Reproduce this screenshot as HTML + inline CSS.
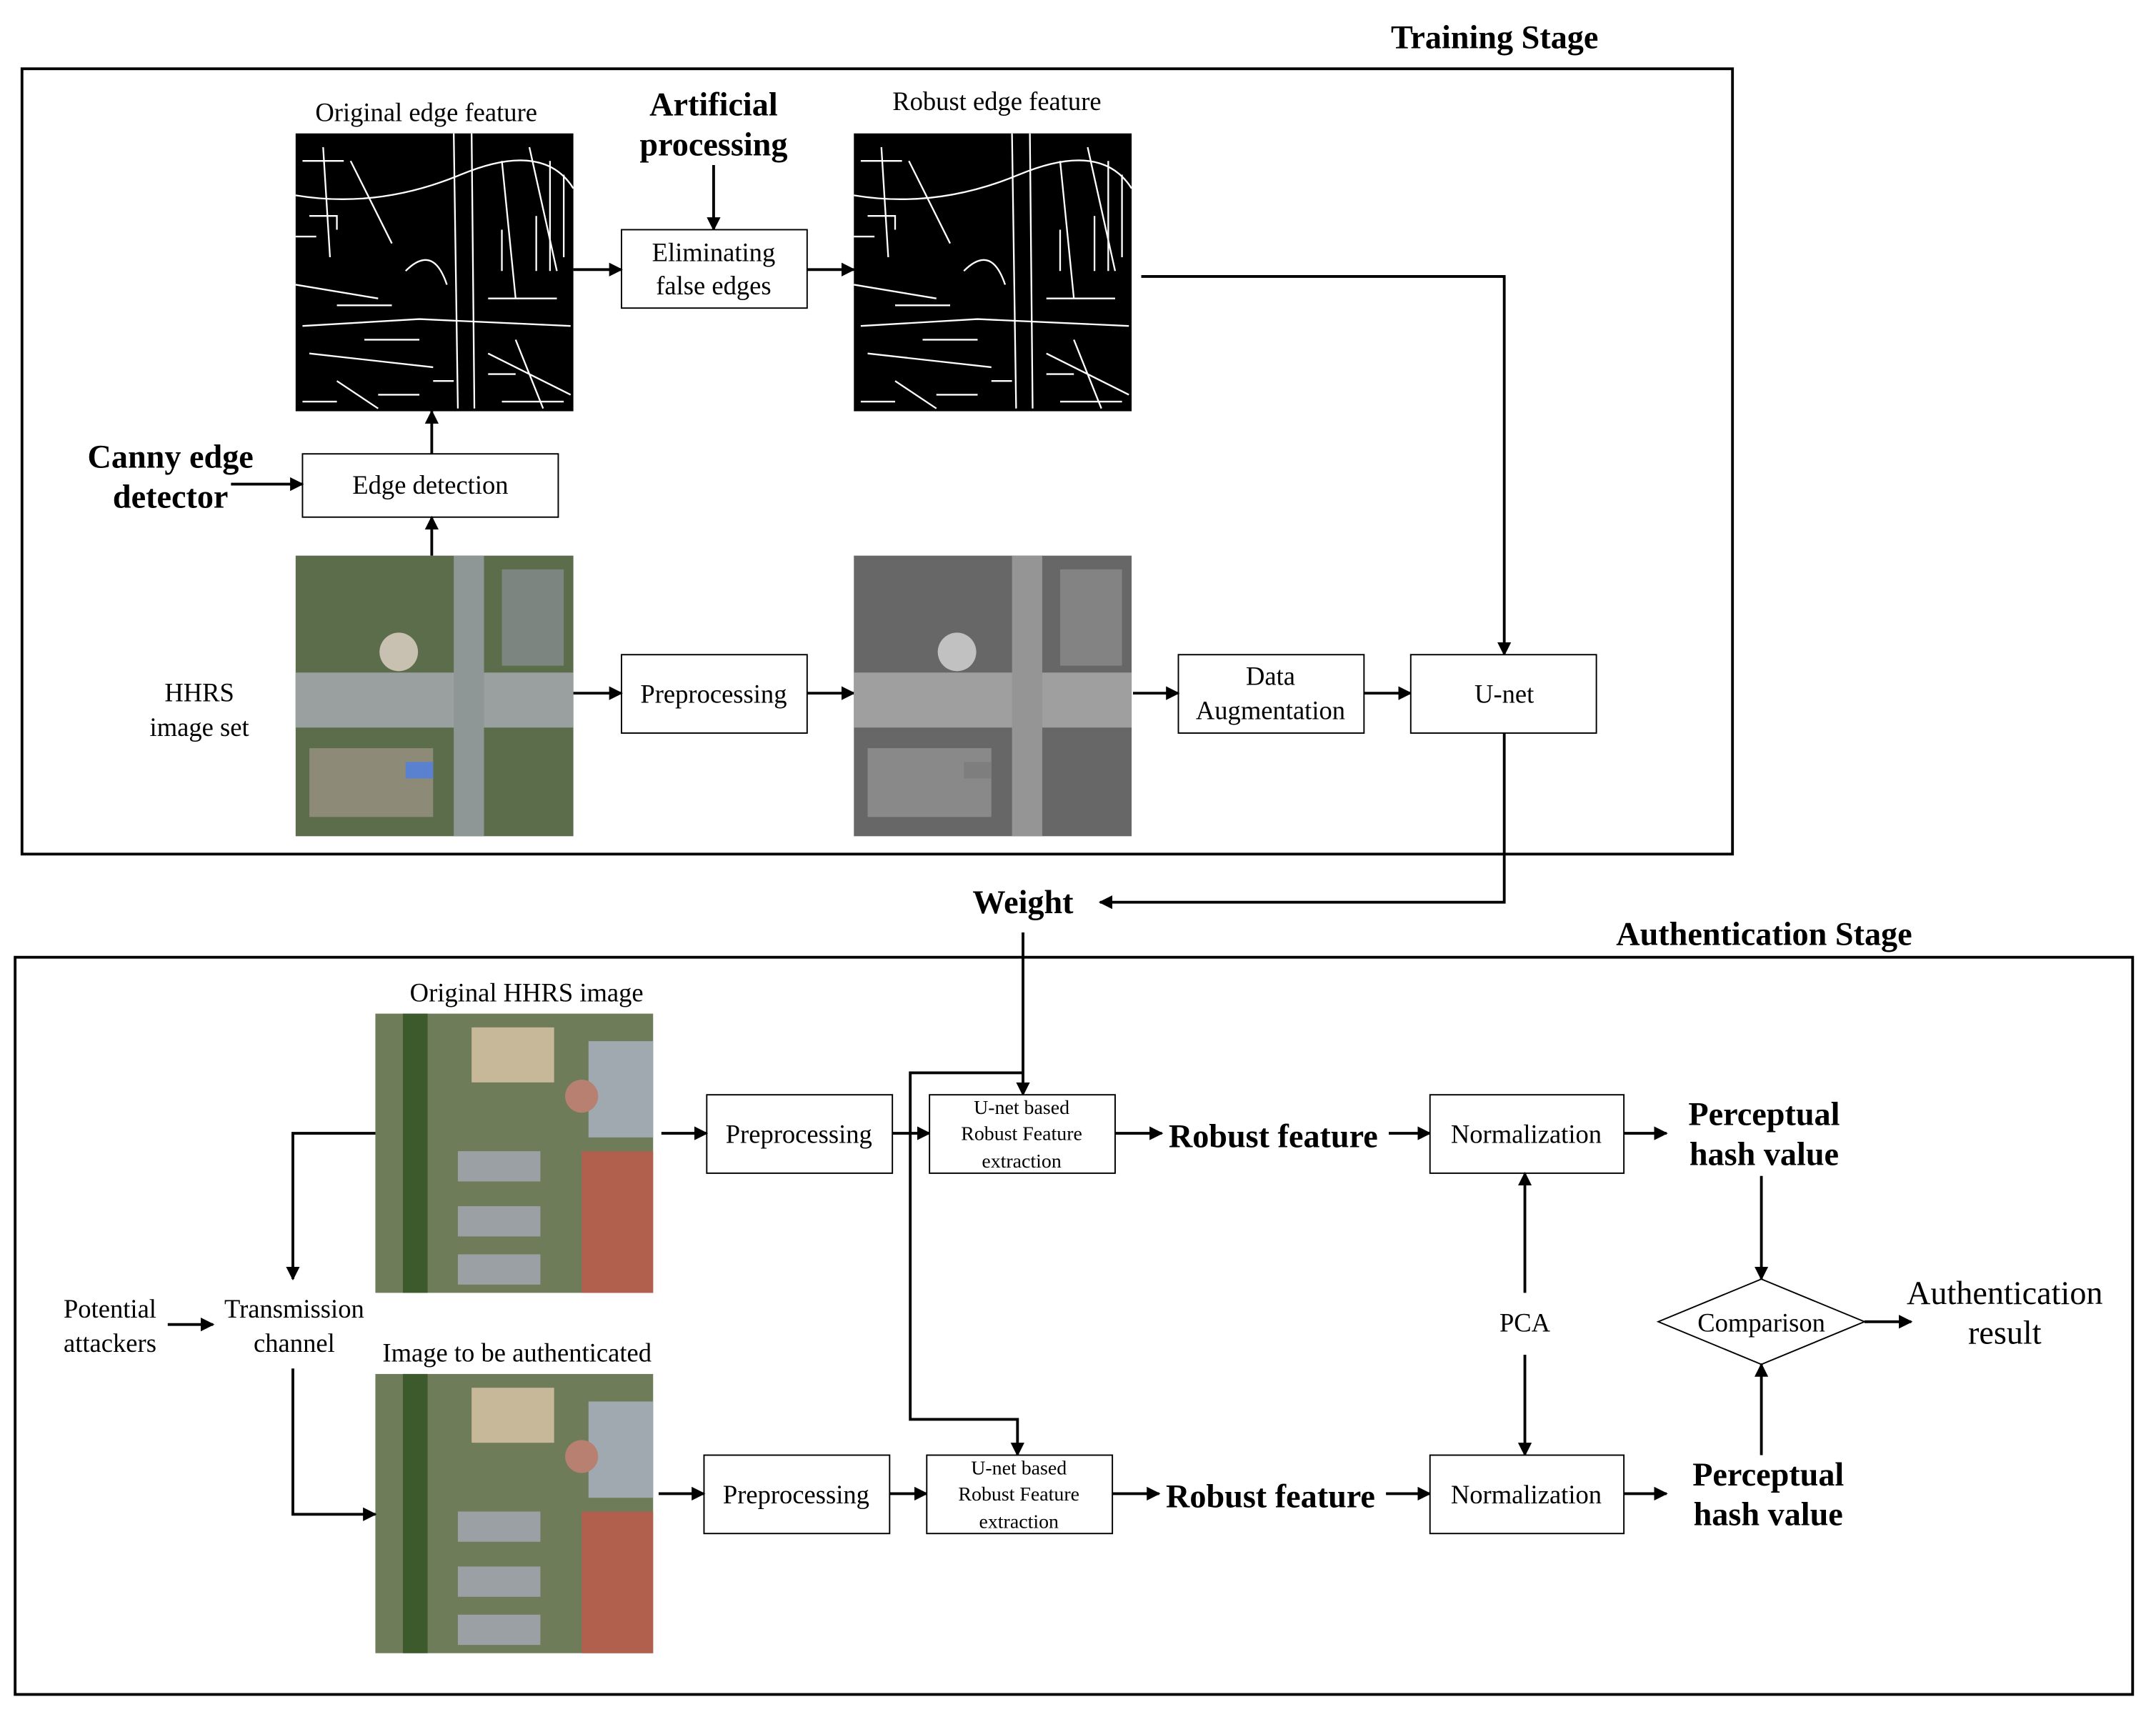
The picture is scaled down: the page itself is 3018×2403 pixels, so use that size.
<!DOCTYPE html>
<html><head><meta charset="utf-8"><style>
html,body{margin:0;padding:0;background:#fff}
svg{display:block}
text{font-family:"Liberation Serif",serif;fill:#000}
.n{font-size:19px}
.b{font-size:24px;font-weight:bold}
.s{font-size:14.5px}
</style></head><body>
<svg width="3018" height="2403" viewBox="0 0 1568 1248.4" preserveAspectRatio="none" xmlns="http://www.w3.org/2000/svg">
<defs>
<marker id="a" markerWidth="10" markerHeight="10" refX="9" refY="5" orient="auto" markerUnits="userSpaceOnUse">
<path d="M0,0 L10,5 L0,10 z" fill="#000"/></marker>
<g id="edge">
<rect width="202" height="202" fill="#000"/>
<g stroke="#fff" stroke-width="1.2" fill="none">
<path d="M0,45 Q60,55 120,30 T202,40"/><path d="M5,140 L90,135 L200,140"/><path d="M115,0 L118,200"/><path d="M128,0 L130,200"/>
<path d="M20,10 L25,90 M40,20 L70,80 M150,20 L160,120 M170,10 L190,100 M10,160 L100,170 M140,160 L200,190 M30,180 L60,200 M80,100 Q100,80 110,110 M160,150 L180,200 M0,110 L60,120"/>
<path d="M5,20 h30 M10,60 h20 v10 M50,150 h40 M140,120 h50 M150,70 v30 M175,60 v40 M185,20 v80 M195,30 v60 M60,190 h30 M100,180 h15 M5,195 h25 M140,175 h20 M30,125 h40 M150,195 h45 M0,75 h15"/>
</g></g>
<g id="sat">
<rect width="202" height="204" fill="#5b6d4a"/>
<rect x="0" y="85" width="202" height="40" fill="#9aa0a0"/>
<rect x="115" y="0" width="22" height="204" fill="#8f9696"/>
<rect x="150" y="10" width="45" height="70" fill="#7c8580"/>
<rect x="10" y="140" width="90" height="50" fill="#8d8a78"/>
<circle cx="75" cy="70" r="14" fill="#c8c0b0"/>
<rect x="80" y="150" width="20" height="12" fill="#5a80d0"/>
</g>
<g id="auth">
<rect width="202" height="203" fill="#6e7c5a"/>
<rect x="20" y="0" width="18" height="203" fill="#3d5a2c"/>
<rect x="60" y="100" width="60" height="22" fill="#9aa0a4"/>
<rect x="60" y="140" width="60" height="22" fill="#9aa0a4"/>
<rect x="60" y="175" width="60" height="22" fill="#9aa0a4"/>
<rect x="155" y="20" width="47" height="70" fill="#a0a8b0"/>
<rect x="150" y="100" width="52" height="103" fill="#b0604c"/>
<rect x="70" y="10" width="60" height="40" fill="#c8b89a"/>
<circle cx="150" cy="60" r="12" fill="#b88070"/>
</g>
</defs>

<text class="b" x="1087" y="35" text-anchor="middle">Training Stage</text>
<rect x="16" y="50" width="1244" height="571" fill="none" stroke="#000" stroke-width="2"/>

<text class="n" x="310" y="88" text-anchor="middle">Original edge feature</text>
<use href="#edge" x="215" y="97"/>
<text class="b" x="519" y="84" text-anchor="middle">Artificial</text>
<text class="b" x="519" y="113" text-anchor="middle">processing</text>
<line x1="519" y1="120" x2="519" y2="167" stroke="#000" stroke-width="2" marker-end="url(#a)"/>
<rect x="452" y="167" width="135" height="57" fill="#fff" stroke="#000"/>
<text class="n" x="519" y="190" text-anchor="middle">Eliminating</text>
<text class="n" x="519" y="214" text-anchor="middle">false edges</text>
<line x1="417" y1="196" x2="452" y2="196" stroke="#000" stroke-width="2" marker-end="url(#a)"/>
<line x1="587" y1="196" x2="621" y2="196" stroke="#000" stroke-width="2" marker-end="url(#a)"/>
<text class="n" x="725" y="80" text-anchor="middle">Robust edge feature</text>
<use href="#edge" x="621" y="97"/>
<polyline points="830,201 1094,201 1094,476" fill="none" stroke="#000" stroke-width="2" marker-end="url(#a)"/>

<rect x="220" y="330" width="186" height="46" fill="#fff" stroke="#000"/>
<text class="n" x="313" y="359" text-anchor="middle">Edge detection</text>
<text class="b" x="124" y="340" text-anchor="middle">Canny edge</text>
<text class="b" x="124" y="369" text-anchor="middle">detector</text>
<line x1="168" y1="352" x2="220" y2="352" stroke="#000" stroke-width="2" marker-end="url(#a)"/>
<line x1="314" y1="330" x2="314" y2="299" stroke="#000" stroke-width="2" marker-end="url(#a)"/>
<line x1="314" y1="404" x2="314" y2="376" stroke="#000" stroke-width="2" marker-end="url(#a)"/>

<use href="#sat" x="215" y="404"/>
<text class="n" x="145" y="510" text-anchor="middle">HHRS</text>
<text class="n" x="145" y="535" text-anchor="middle">image set</text>
<rect x="452" y="476" width="135" height="57" fill="#fff" stroke="#000"/>
<text class="n" x="519" y="511" text-anchor="middle">Preprocessing</text>
<line x1="417" y1="504" x2="452" y2="504" stroke="#000" stroke-width="2" marker-end="url(#a)"/>
<line x1="587" y1="504" x2="621" y2="504" stroke="#000" stroke-width="2" marker-end="url(#a)"/>
<use href="#sat" x="621" y="404" style="filter:grayscale(1)"/>
<rect x="857" y="476" width="135" height="57" fill="#fff" stroke="#000"/>
<text class="n" x="924" y="498" text-anchor="middle">Data</text>
<text class="n" x="924" y="523" text-anchor="middle">Augmentation</text>
<line x1="824" y1="504" x2="857" y2="504" stroke="#000" stroke-width="2" marker-end="url(#a)"/>
<line x1="992" y1="504" x2="1026" y2="504" stroke="#000" stroke-width="2" marker-end="url(#a)"/>
<rect x="1026" y="476" width="135" height="57" fill="#fff" stroke="#000"/>
<text class="n" x="1094" y="511" text-anchor="middle">U-net</text>

<polyline points="1094,533 1094,656 800,656" fill="none" stroke="#000" stroke-width="2" marker-end="url(#a)"/>
<text class="b" x="744" y="664" text-anchor="middle">Weight</text>

<text class="b" x="1283" y="687" text-anchor="middle">Authentication Stage</text>
<rect x="11" y="696" width="1540" height="536" fill="none" stroke="#000" stroke-width="2"/>

<line x1="744" y1="678" x2="744" y2="796" stroke="#000" stroke-width="2" marker-end="url(#a)"/>
<polyline points="744,780 662,780 662,1032 740,1032 740,1058" fill="none" stroke="#000" stroke-width="2" marker-end="url(#a)"/>

<text class="n" x="383" y="728" text-anchor="middle">Original HHRS image</text>
<use href="#auth" x="273" y="737"/>
<rect x="514" y="796" width="135" height="57" fill="#fff" stroke="#000"/>
<text class="n" x="581" y="831" text-anchor="middle">Preprocessing</text>
<line x1="481" y1="824" x2="514" y2="824" stroke="#000" stroke-width="2" marker-end="url(#a)"/>
<line x1="649" y1="824" x2="676" y2="824" stroke="#000" stroke-width="2" marker-end="url(#a)"/>
<rect x="676" y="796" width="135" height="57" fill="#fff" stroke="#000"/>
<text class="s" x="743" y="810" text-anchor="middle">U-net based</text>
<text class="s" x="743" y="829" text-anchor="middle">Robust Feature</text>
<text class="s" x="743" y="849" text-anchor="middle">extraction</text>
<line x1="811" y1="824" x2="845" y2="824" stroke="#000" stroke-width="2" marker-end="url(#a)"/>
<text class="b" x="926" y="834" text-anchor="middle">Robust feature</text>
<line x1="1010" y1="824" x2="1040" y2="824" stroke="#000" stroke-width="2" marker-end="url(#a)"/>
<rect x="1040" y="796" width="141" height="57" fill="#fff" stroke="#000"/>
<text class="n" x="1110" y="831" text-anchor="middle">Normalization</text>
<line x1="1181" y1="824" x2="1212" y2="824" stroke="#000" stroke-width="2" marker-end="url(#a)"/>
<text class="b" x="1283" y="818" text-anchor="middle">Perceptual</text>
<text class="b" x="1283" y="847" text-anchor="middle">hash value</text>
<line x1="1281" y1="855" x2="1281" y2="930" stroke="#000" stroke-width="2" marker-end="url(#a)"/>
<polygon points="1206,961 1281,930 1356,961 1281,992" fill="#fff" stroke="#000"/>
<text class="n" x="1281" y="968" text-anchor="middle">Comparison</text>
<line x1="1356" y1="961" x2="1390" y2="961" stroke="#000" stroke-width="2" marker-end="url(#a)"/>
<text class="b" x="1458" y="948" text-anchor="middle" style="font-weight:normal">Authentication</text>
<text class="b" x="1458" y="977" text-anchor="middle" style="font-weight:normal">result</text>
<line x1="1281" y1="1058" x2="1281" y2="992" stroke="#000" stroke-width="2" marker-end="url(#a)"/>
<text class="n" x="1109" y="968" text-anchor="middle">PCA</text>
<line x1="1109" y1="940" x2="1109" y2="853" stroke="#000" stroke-width="2" marker-end="url(#a)"/>
<line x1="1109" y1="985" x2="1109" y2="1058" stroke="#000" stroke-width="2" marker-end="url(#a)"/>

<text class="n" x="376" y="990" text-anchor="middle">Image to be authenticated</text>
<use href="#auth" x="273" y="999"/>
<rect x="512" y="1058" width="135" height="57" fill="#fff" stroke="#000"/>
<text class="n" x="579" y="1093" text-anchor="middle">Preprocessing</text>
<line x1="479" y1="1086" x2="512" y2="1086" stroke="#000" stroke-width="2" marker-end="url(#a)"/>
<line x1="647" y1="1086" x2="674" y2="1086" stroke="#000" stroke-width="2" marker-end="url(#a)"/>
<rect x="674" y="1058" width="135" height="57" fill="#fff" stroke="#000"/>
<text class="s" x="741" y="1072" text-anchor="middle">U-net based</text>
<text class="s" x="741" y="1091" text-anchor="middle">Robust Feature</text>
<text class="s" x="741" y="1111" text-anchor="middle">extraction</text>
<line x1="809" y1="1086" x2="843" y2="1086" stroke="#000" stroke-width="2" marker-end="url(#a)"/>
<text class="b" x="924" y="1096" text-anchor="middle">Robust feature</text>
<line x1="1008" y1="1086" x2="1040" y2="1086" stroke="#000" stroke-width="2" marker-end="url(#a)"/>
<rect x="1040" y="1058" width="141" height="57" fill="#fff" stroke="#000"/>
<text class="n" x="1110" y="1093" text-anchor="middle">Normalization</text>
<line x1="1181" y1="1086" x2="1212" y2="1086" stroke="#000" stroke-width="2" marker-end="url(#a)"/>
<text class="b" x="1286" y="1080" text-anchor="middle">Perceptual</text>
<text class="b" x="1286" y="1109" text-anchor="middle">hash value</text>

<polyline points="273,824 213,824 213,930" fill="none" stroke="#000" stroke-width="2" marker-end="url(#a)"/>
<text class="n" x="214" y="958" text-anchor="middle">Transmission</text>
<text class="n" x="214" y="983" text-anchor="middle">channel</text>
<text class="n" x="80" y="958" text-anchor="middle">Potential</text>
<text class="n" x="80" y="983" text-anchor="middle">attackers</text>
<line x1="122" y1="963" x2="155" y2="963" stroke="#000" stroke-width="2" marker-end="url(#a)"/>
<polyline points="213,995 213,1101 273,1101" fill="none" stroke="#000" stroke-width="2" marker-end="url(#a)"/>
</svg>
</body></html>
